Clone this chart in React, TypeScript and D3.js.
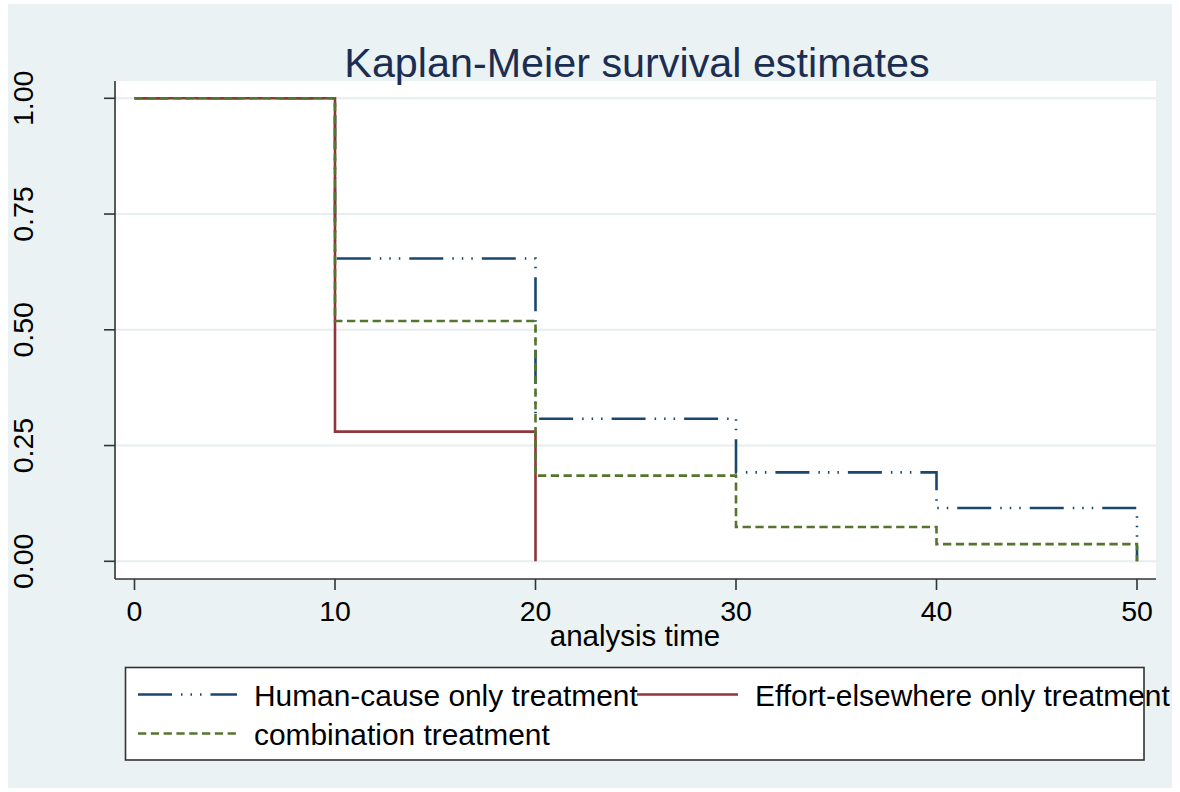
import React, { useEffect, useRef } from "react";
import * as d3 from "d3";

const times = [0, 10, 20, 30, 40, 50];
const humanCause = [1, 0.654, 0.308, 0.192, 0.115, 0];
const effortElsewhere = [1, 0.28, 0];
const combination = [1, 0.519, 0.185, 0.074, 0.037, 0];

const xTicks = [0, 10, 20, 30, 40, 50];
const yTicks = [0, 0.25, 0.5, 0.75, 1];
const yTickLabels = ["0.00", "0.25", "0.50", "0.75", "1.00"];

const seriesNames = [
  "Human-cause only treatment",
  "Effort-elsewhere only treatment",
  "combination treatment",
];

const FONT = "'Liberation Sans', Arial, sans-serif";

const App = () => {
  const ref = useRef<SVGSVGElement>(null);

  useEffect(() => {
    const svg = d3.select(ref.current);
    svg.selectAll("*").remove();

    const W = 1180, H = 792;

    svg.append("rect").attr("width", W).attr("height", H).attr("fill", "#ffffff");
    svg.append("rect")
      .attr("x", 8).attr("y", 4)
      .attr("width", 1164).attr("height", 784)
      .attr("fill", "#eaf2f3");

    // plot region
    const plot = { left: 115, right: 1156, top: 81, bottom: 579 };
    svg.append("rect")
      .attr("x", plot.left).attr("y", plot.top)
      .attr("width", plot.right - plot.left).attr("height", plot.bottom - plot.top)
      .attr("fill", "#ffffff");

    const x = d3.scaleLinear().domain([0, 50]).range([134.5, 1137]);
    const y = d3.scaleLinear().domain([0, 1]).range([561.3, 98.3]);

    // gridlines
    svg.append("g")
      .selectAll("line")
      .data(yTicks)
      .join("line")
      .attr("x1", plot.left).attr("x2", plot.right)
      .attr("y1", d => y(d)).attr("y2", d => y(d))
      .attr("stroke", "#e6eef0")
      .attr("stroke-width", 2);

    // title
    svg.append("text")
      .attr("x", 637).attr("y", 77)
      .attr("text-anchor", "middle")
      .attr("font-family", FONT)
      .attr("font-size", 41.3)
      .attr("fill", "#1c2d52")
      .text("Kaplan-Meier survival estimates");

    // y axis
    const axisColor = "#333333";
    svg.append("line")
      .attr("x1", plot.left).attr("x2", plot.left)
      .attr("y1", plot.top).attr("y2", plot.bottom)
      .attr("stroke", axisColor).attr("stroke-width", 1.6);
    const yg = svg.append("g");
    yg.selectAll("line")
      .data(yTicks)
      .join("line")
      .attr("x1", plot.left - 11).attr("x2", plot.left)
      .attr("y1", d => y(d)).attr("y2", d => y(d))
      .attr("stroke", axisColor).attr("stroke-width", 1.6);
    yg.selectAll("text")
      .data(yTicks)
      .join("text")
      .attr("transform", d => `translate(33, ${y(d)}) rotate(-90)`)
      .attr("text-anchor", "middle")
      .attr("font-family", FONT)
      .attr("font-size", 28.5)
      .attr("fill", "#000000")
      .text((d, i) => yTickLabels[i]);

    // x axis
    svg.append("line")
      .attr("x1", plot.left).attr("x2", plot.right)
      .attr("y1", plot.bottom).attr("y2", plot.bottom)
      .attr("stroke", axisColor).attr("stroke-width", 1.6);
    const xg = svg.append("g");
    xg.selectAll("line")
      .data(xTicks)
      .join("line")
      .attr("x1", d => x(d)).attr("x2", d => x(d))
      .attr("y1", plot.bottom).attr("y2", plot.bottom + 11)
      .attr("stroke", axisColor).attr("stroke-width", 1.6);
    xg.selectAll("text")
      .data(xTicks)
      .join("text")
      .attr("x", d => x(d)).attr("y", 621)
      .attr("text-anchor", "middle")
      .attr("font-family", FONT)
      .attr("font-size", 28.5)
      .attr("fill", "#000000")
      .text(d => d);

    svg.append("text")
      .attr("x", 635).attr("y", 646)
      .attr("text-anchor", "middle")
      .attr("font-family", FONT)
      .attr("font-size", 29.5)
      .attr("fill", "#000000")
      .text("analysis time");

    // survival curves
    const line = d3.line<[number, number]>()
      .x(d => x(d[0]))
      .y(d => y(d[1]))
      .curve(d3.curveStepAfter);

    const styles = [
      { color: "#1a476f", dash: "34,9,1.5,8,1.5,8,1.5,9" },
      { color: "#90353b", dash: null },
      { color: "#55752f", dash: "8.3,4.5" },
    ];
    const series = [humanCause, effortElsewhere, combination];

    series.forEach((vals, i) => {
      const pts = vals.map((v, j) => [times[j], v] as [number, number]);
      const p = svg.append("path")
        .attr("d", line(pts))
        .attr("fill", "none")
        .attr("stroke", styles[i].color)
        .attr("stroke-width", 2.6);
      if (styles[i].dash) p.attr("stroke-dasharray", styles[i].dash);
    });

    // legend
    svg.append("rect")
      .attr("x", 125.5).attr("y", 667.5)
      .attr("width", 1144 - 125.5).attr("height", 760 - 667.5)
      .attr("fill", "#ffffff")
      .attr("stroke", "#333333")
      .attr("stroke-width", 1.6);

    const legendItems = [
      { sx: 138, ex: 237, ly: 694.5, tx: 254, ty: 706 },
      { sx: 637, ex: 738, ly: 694.5, tx: 755, ty: 706 },
      { sx: 138, ex: 237, ly: 733.5, tx: 254, ty: 745 },
    ];
    legendItems.forEach((it, i) => {
      const l = svg.append("line")
        .attr("x1", it.sx).attr("x2", it.ex)
        .attr("y1", it.ly).attr("y2", it.ly)
        .attr("stroke", styles[i].color)
        .attr("stroke-width", 2.6);
      if (styles[i].dash) l.attr("stroke-dasharray", styles[i].dash);
      svg.append("text")
        .attr("x", it.tx).attr("y", it.ty)
        .attr("font-family", FONT)
        .attr("font-size", 29.9)
        .attr("fill", "#000000")
        .text(seriesNames[i]);
    });
  }, []);

  return (
    <svg
      ref={ref}
      width={1180}
      height={792}
      style={{ position: "absolute", left: 0, top: 0 }}
    />
  );
};

export default App;
